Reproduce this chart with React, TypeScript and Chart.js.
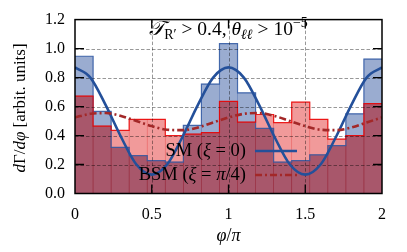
import React, { useEffect, useRef } from "react";
import { Chart, registerables } from "chart.js";

Chart.register(...registerables);

// ---------- data ----------
const X_MIN = 0;
const X_MAX = 2;
const Y_MIN = 0;
const Y_MAX = 1.2;
const BIN_COUNT = 17;

const SM_HIST = [0.947, 0.567, 0.318, 0.261, 0.227, 0.216, 0.47, 0.755, 1.034, 0.695, 0.45, 0.216, 0.227, 0.266, 0.33, 0.55, 0.927];
const BSM_HIST = [0.672, 0.465, 0.436, 0.511, 0.511, 0.4, 0.41, 0.42, 0.636, 0.493, 0.545, 0.489, 0.63, 0.511, 0.375, 0.4, 0.62];

const CURVE_X = [0, 0.1, 0.2, 0.3, 0.4, 0.5, 0.6, 0.7, 0.8, 0.9, 1.0, 1.1, 1.2, 1.3, 1.4, 1.5, 1.6, 1.7, 1.8, 1.9, 2.0];
const SM_CURVE = [0.87, 0.8, 0.61, 0.39, 0.2, 0.13, 0.2, 0.39, 0.61, 0.8, 0.87, 0.8, 0.61, 0.39, 0.2, 0.13, 0.2, 0.39, 0.61, 0.8, 0.87];
const BSM_CURVE = [0.525, 0.55, 0.555, 0.535, 0.5, 0.465, 0.44, 0.437, 0.455, 0.49, 0.525, 0.55, 0.555, 0.535, 0.5, 0.465, 0.44, 0.437, 0.455, 0.49, 0.525];

const X_TICKS = [0, 0.5, 1, 1.5, 2];
const X_TICK_LABELS = ["0", "0.5", "1", "1.5", "2"];
const Y_TICKS = [0, 0.2, 0.4, 0.6, 0.8, 1.0, 1.2];
const Y_TICK_LABELS = ["0.0", "0.2", "0.4", "0.6", "0.8", "1.0", "1.2"];

const SM_LABEL = "SM";
const BSM_LABEL = "BSM";

// ---------- styles ----------
const SERIF = '"Liberation Serif", "DejaVu Serif", serif';
const roman = (n: number) => `${n}px ${SERIF}`;
const italic = (n: number) => `italic ${n}px ${SERIF}`;

const SM_FILL = "rgba(30,70,150,0.45)";
const SM_EDGE = "rgba(50,90,165,0.85)";
const BSM_FILL = "rgba(225,40,40,0.47)";
const BSM_EDGE = "rgba(235,0,0,0.85)";
const OVERLAP_FILL = "rgba(120,30,50,0.29)";
const SM_LINE = "#24509a";
const BSM_LINE = "#a32828";
const BSM_DASH = [7, 3, 2, 3];

type Seg = { t: string; f: string; dy?: number };

function richWidth(ctx: CanvasRenderingContext2D, segs: Seg[]) {
  let w = 0;
  for (const s of segs) {
    ctx.font = s.f;
    w += ctx.measureText(s.t).width;
  }
  return w;
}

function drawRich(ctx: CanvasRenderingContext2D, segs: Seg[], x: number, y: number, align: "left" | "center" | "right") {
  const w = richWidth(ctx, segs);
  let cx = align === "left" ? x : align === "center" ? x - w / 2 : x - w;
  ctx.textAlign = "left";
  ctx.textBaseline = "alphabetic";
  for (const s of segs) {
    ctx.font = s.f;
    ctx.fillText(s.t, cx, y + (s.dy || 0));
    cx += ctx.measureText(s.t).width;
  }
}

const decorPlugin = {
  id: "decor",
  beforeDatasetDraw(chart: any, args: any) {
    if (args.index !== 0) return;
    const { ctx, chartArea: a, scales } = chart;
    const xs = scales.x;
    const ys = scales.y;
    ctx.save();
    ctx.setLineDash([3.5, 2]);
    ctx.strokeStyle = "rgba(0,0,0,0.45)";
    ctx.lineWidth = 0.9;
    for (const v of Y_TICKS.slice(1, -1)) {
      const py = Math.round(ys.getPixelForValue(v)) + 0.5;
      ctx.beginPath();
      ctx.moveTo(a.left, py);
      ctx.lineTo(a.right, py);
      ctx.stroke();
    }
    for (const v of X_TICKS.slice(1, -1)) {
      const px = Math.round(xs.getPixelForValue(v)) + 0.5;
      ctx.beginPath();
      ctx.moveTo(px, a.top);
      ctx.lineTo(px, a.bottom);
      ctx.stroke();
    }
    ctx.restore();
  },
  afterDraw(chart: any) {
    const { ctx, chartArea: a, scales } = chart;
    const xs = scales.x;
    const ys = scales.y;
    ctx.save();
    // frame
    ctx.strokeStyle = "#000";
    ctx.lineWidth = 1.5;
    ctx.setLineDash([]);
    ctx.strokeRect(a.left, a.top, a.right - a.left, a.bottom - a.top);
    // inward ticks
    ctx.lineWidth = 1.3;
    const TL = 9;
    for (const v of Y_TICKS.slice(1, -1)) {
      const py = ys.getPixelForValue(v);
      ctx.beginPath();
      ctx.moveTo(a.left, py);
      ctx.lineTo(a.left + TL, py);
      ctx.moveTo(a.right, py);
      ctx.lineTo(a.right - TL, py);
      ctx.stroke();
    }
    for (const v of X_TICKS.slice(1, -1)) {
      const px = xs.getPixelForValue(v);
      ctx.beginPath();
      ctx.moveTo(px, a.bottom);
      ctx.lineTo(px, a.bottom - TL);
      ctx.moveTo(px, a.top);
      ctx.lineTo(px, a.top + TL);
      ctx.stroke();
    }

    ctx.fillStyle = "#000";
    // top annotation
    drawRich(
      ctx,
      [
        { t: "𝒯", f: italic(20) },
        { t: "R′", f: roman(14), dy: 4 },
        { t: " > 0.4, ", f: roman(19.5) },
        { t: "θ", f: italic(19.5) },
        { t: "ℓℓ", f: italic(14), dy: 4 },
        { t: " > 10", f: roman(19.5) },
        { t: "−5", f: roman(14), dy: -8 },
      ],
      (a.left + a.right) / 2,
      35,
      "center"
    );

    // legend
    const legendRight = 246;
    const lx0 = 255;
    const lx1 = 297;
    const rows = [
      { y: 151, segs: [{ t: SM_LABEL + " (", f: roman(18.5) }, { t: "ξ", f: italic(18.5) }, { t: " = 0)", f: roman(18.5) }], color: SM_LINE, dash: [] as number[] },
      { y: 175, segs: [{ t: BSM_LABEL + " (", f: roman(18.5) }, { t: "ξ", f: italic(18.5) }, { t: " = ", f: roman(18.5) }, { t: "π", f: italic(18.5) }, { t: "/4)", f: roman(18.5) }], color: BSM_LINE, dash: BSM_DASH },
    ];
    for (const r of rows) {
      drawRich(ctx, r.segs, legendRight, r.y + 5, "right");
      ctx.save();
      ctx.strokeStyle = r.color;
      ctx.lineWidth = 2.5;
      ctx.setLineDash(r.dash);
      ctx.beginPath();
      ctx.moveTo(lx0, r.y);
      ctx.lineTo(lx1, r.y);
      ctx.stroke();
      ctx.restore();
    }

    // x title
    drawRich(
      ctx,
      [
        { t: "φ", f: italic(18) },
        { t: "/", f: roman(18) },
        { t: "π", f: italic(18) },
      ],
      (a.left + a.right) / 2,
      241,
      "center"
    );

    // y title
    ctx.save();
    ctx.translate(25, 108);
    ctx.rotate(-Math.PI / 2);
    drawRich(
      ctx,
      [
        { t: "d", f: italic(17) },
        { t: "Γ", f: roman(17) },
        { t: "/", f: roman(17) },
        { t: "d", f: italic(17) },
        { t: "φ", f: italic(17) },
        { t: " [arbit. units]", f: roman(17) },
      ],
      0,
      0,
      "center"
    );
    ctx.restore();
    ctx.restore();
  },
};

export default function App() {
  const ref = useRef<HTMLCanvasElement>(null);

  useEffect(() => {
    const binWidth = (X_MAX - X_MIN) / BIN_COUNT;
    const centers = SM_HIST.map((_, i) => X_MIN + (i + 0.5) * binWidth);
    const leftEdges = SM_HIST.map((_, i) => X_MIN + i * binWidth);
    const smBars = SM_HIST.map((v, i) => ({ x: centers[i], y: v }));
    const bsmBars = BSM_HIST.map((v, i) => ({ x: centers[i], y: v }));
    const overlapBars = SM_HIST.map((v, i) => ({ x: centers[i], y: Math.min(v, BSM_HIST[i]) }));
    const stepPts = (vals: number[]) => [
      ...vals.map((v, i) => ({ x: leftEdges[i], y: v })),
      { x: X_MAX, y: vals[vals.length - 1] },
    ];
    const smCurve = CURVE_X.map((x, i) => ({ x, y: SM_CURVE[i] }));
    const bsmCurve = CURVE_X.map((x, i) => ({ x, y: BSM_CURVE[i] }));

    const barCommon = {
      type: "bar",
      borderWidth: 0,
      grouped: false,
      barPercentage: 1,
      categoryPercentage: 1,
    };

    const chart = new Chart(ref.current as HTMLCanvasElement, {
      type: "bar",
      data: {
        datasets: [
          {
            type: "line",
            label: "SM (ξ = 0)",
            data: smCurve,
            borderColor: SM_LINE,
            borderWidth: 2.6,
            pointRadius: 0,
            fill: false,
            cubicInterpolationMode: "monotone",
            order: 1,
          } as any,
          {
            type: "line",
            label: "BSM (ξ = π/4)",
            data: bsmCurve,
            borderColor: BSM_LINE,
            borderWidth: 2.6,
            borderDash: BSM_DASH,
            pointRadius: 0,
            fill: false,
            cubicInterpolationMode: "monotone",
            order: 0,
          } as any,
          {
            type: "line",
            label: "BSM outline",
            data: stepPts(BSM_HIST),
            borderColor: BSM_EDGE,
            borderWidth: 1.2,
            stepped: "before",
            pointRadius: 0,
            fill: false,
            order: 2,
          } as any,
          {
            type: "line",
            label: "SM outline",
            data: stepPts(SM_HIST),
            borderColor: SM_EDGE,
            borderWidth: 1.2,
            stepped: "before",
            pointRadius: 0,
            fill: false,
            order: 3,
          } as any,
          { ...barCommon, label: "overlap", data: overlapBars, backgroundColor: OVERLAP_FILL, order: 4 } as any,
          { ...barCommon, label: "BSM hist", data: bsmBars, backgroundColor: BSM_FILL, order: 5 } as any,
          { ...barCommon, label: "SM hist", data: smBars, backgroundColor: SM_FILL, order: 6 } as any,
        ],
      },
      options: {
        responsive: false,
        animation: false,
        devicePixelRatio: 1,
        layout: { padding: { left: 0, right: 25, top: 17, bottom: 0 } },
        plugins: { legend: { display: false }, tooltip: { enabled: false }, title: { display: false } },
        scales: {
          x: {
            type: "linear",
            min: X_MIN,
            max: X_MAX,
            offset: false,
            grid: { display: false, drawTicks: false },
            border: { display: false },
            afterBuildTicks: (s: any) => {
              s.ticks = X_TICKS.map((v) => ({ value: v }));
            },
            afterFit: (s: any) => {
              s.height = 58.5;
            },
            ticks: {
              padding: 12,
              color: "#000",
              font: { family: SERIF, size: 16 },
              maxRotation: 0,
              autoSkip: false,
              callback: (_v: any, i: number) => X_TICK_LABELS[i],
            },
          },
          y: {
            type: "linear",
            min: Y_MIN,
            max: Y_MAX,
            grid: { display: false, drawTicks: false },
            border: { display: false },
            afterBuildTicks: (s: any) => {
              s.ticks = Y_TICKS.map((v) => ({ value: v }));
            },
            afterFit: (s: any) => {
              s.width = 75;
            },
            ticks: {
              padding: 10,
              color: "#000",
              font: { family: SERIF, size: 16 },
              autoSkip: false,
              callback: (_v: any, i: number) => Y_TICK_LABELS[i],
            },
          },
        },
      } as any,
      plugins: [decorPlugin as any],
    });
    return () => chart.destroy();
  }, []);

  return (
    <div style={{ position: "absolute", left: 0, top: 0, width: 407, height: 252, background: "#fff" }}>
      <canvas ref={ref} width={407} height={252} style={{ display: "block", width: 407, height: 252 }} />
    </div>
  );
}
